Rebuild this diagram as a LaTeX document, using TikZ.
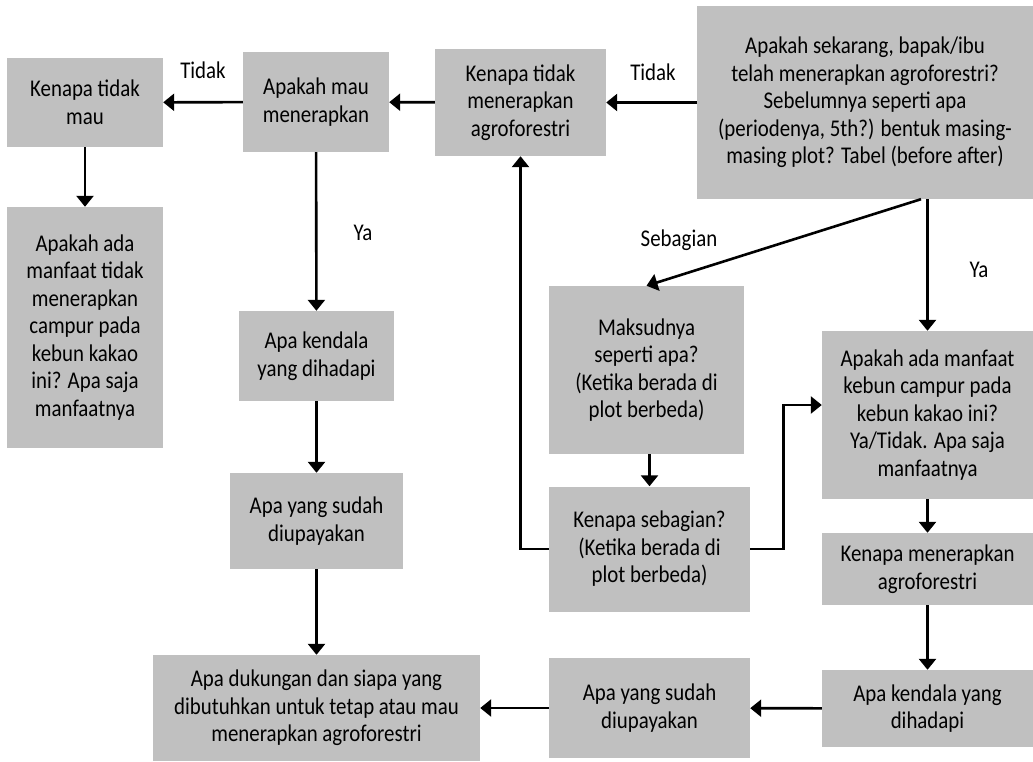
\documentclass[tikz,border=0pt]{standalone}
\usepackage{fontspec}
\setmainfont{Carlito}[FakeStretch=0.87]
\usetikzlibrary{arrows.meta}
\definecolor{boxgray}{RGB}{192,192,192}
\tikzset{
  box/.style={fill=boxgray, align=center, inner sep=0pt, font=\fontsize{24}{27.5}\selectfont},
  lbl/.style={font=\fontsize{24}{27.5}\selectfont},
  arr/.style={line width=2.6pt, -{Triangle[length=11pt,width=17pt]}}
}
\begin{document}
\begin{tikzpicture}[x=1pt,y=-1pt]
\useasboundingbox (0,0) rectangle (1033,762);
% top row
\node[box, minimum width=156pt, minimum height=89pt] (tidakmau) at (85,102.5) {Kenapa tidak\\mau};
\node[box, minimum width=146pt, minimum height=100pt] (mau) at (316,102) {Apakah mau\\menerapkan};
\node[box, minimum width=171pt, minimum height=107pt] (tidakterap) at (520.5,102.5) {Kenapa tidak\\menerapkan\\agroforestri};
\node[box, minimum width=336pt, minimum height=193pt] (sekarang) at (865,102.5) {Apakah sekarang, bapak/ibu\\telah menerapkan agroforestri?\\Sebelumnya seperti apa\\(periodenya, 5th?) bentuk masing-\\masing plot? Tabel (before after)};

% left columns
\node[box, minimum width=156pt, minimum height=241pt] (manfaattidak) at (85,327.5) {Apakah ada\\manfaat tidak\\menerapkan\\campur pada\\kebun kakao\\ini? Apa saja\\manfaatnya};
\node[box, minimum width=155pt, minimum height=90pt] (kendalaA) at (316.5,356) {Apa kendala\\yang dihadapi};
\node[box, minimum width=173pt, minimum height=96pt] (sudahA) at (316.5,521) {Apa yang sudah\\diupayakan};
\node[box, minimum width=327pt, minimum height=106pt] (dukungan) at (316.5,708) {Apa dukungan dan siapa yang\\dibutuhkan untuk tetap atau mau\\menerapkan agroforestri};

% middle and right columns
\node[box, minimum width=195pt, minimum height=168pt] (maksud) at (646.5,370) {Maksudnya\\seperti apa?\\(Ketika berada di\\plot berbeda)};
\node[box, minimum width=201pt, minimum height=125pt] (sebagian) at (649.5,549) {Kenapa sebagian?\\(Ketika berada di\\plot berbeda)};
\node[box, minimum width=211pt, minimum height=168pt] (manfaat) at (927.5,415) {Apakah ada manfaat\\kebun campur pada\\kebun kakao ini?\\Ya/Tidak. Apa saja\\manfaatnya};
\node[box, minimum width=211pt, minimum height=72pt] (terap) at (927.5,569) {Kenapa menerapkan\\agroforestri};
\node[box, minimum width=211pt, minimum height=77pt] (kendalaB) at (927.5,708.5) {Apa kendala yang\\dihadapi};
\node[box, minimum width=201pt, minimum height=100pt] (sudahB) at (649.5,708) {Apa yang sudah\\diupayakan};

% labels
\node[lbl] (tidakA) at (203,70) {Tidak};
\node[lbl] (tidakB) at (653,72) {Tidak};
\node[lbl] (yaA) at (363,233) {Ya};
\node[lbl] (yaB) at (979,270) {Ya};
\node[lbl] (sebag) at (679,240) {Sebagian};

% arrows
\draw[arr] (sekarang) -- (tidakterap);
\draw[arr] (tidakterap) -- (mau);
\draw[arr] (mau) -- (tidakmau);
\draw[arr] (tidakmau) -- (manfaattidak);
\draw[arr] (mau) -- (kendalaA);
\draw[arr] (kendalaA) -- (sudahA);
\draw[arr] (sudahA) -- (dukungan);
\draw[arr] ([xshift=56pt]sekarang.south) -- (maksud.north);
\draw[arr] (sekarang.south -| manfaat.north) -- (manfaat.north);
\draw[arr] (maksud.south -| sebagian.north) -- (sebagian.north);
\draw[arr] (sebagian.east) -- ++(33,0) |- ([yshift=10pt]manfaat.west);
\draw[arr] (sebagian.west) -| (tidakterap.south);
\draw[arr] (manfaat) -- (terap);
\draw[arr] (terap) -- (kendalaB);
\draw[arr] (kendalaB) -- (sudahB);
\draw[arr] (sudahB) -- (dukungan);
\end{tikzpicture}
\end{document}
